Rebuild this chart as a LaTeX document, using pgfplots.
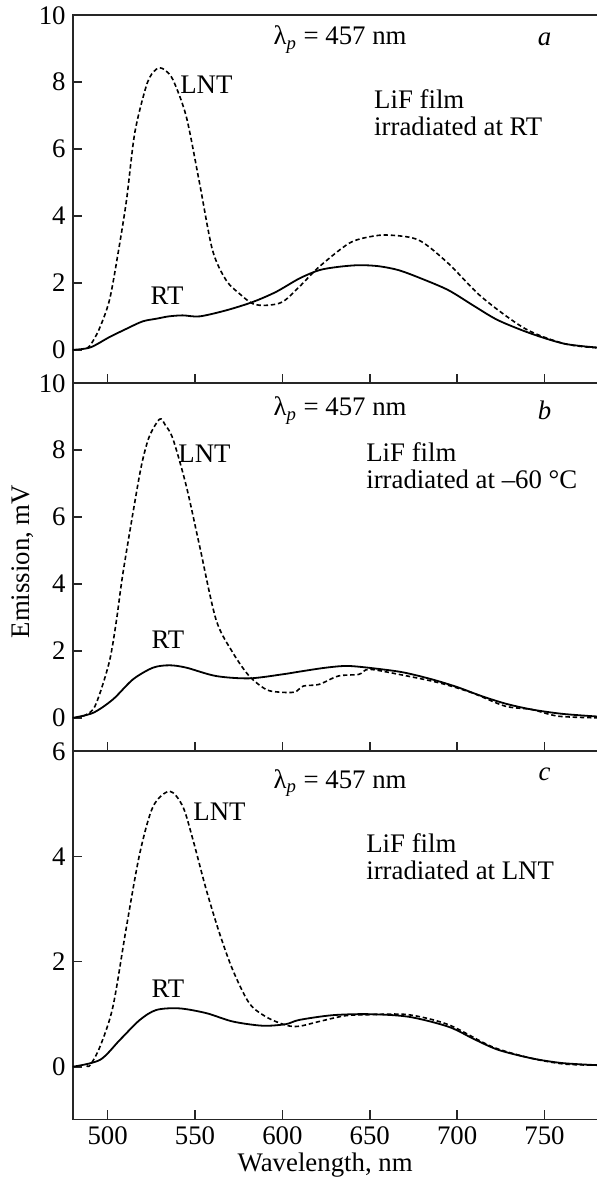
\documentclass[border=0pt]{standalone}
\usepackage{fontspec}
\setmainfont{Liberation Serif}
\usepackage{pgfplots}
\pgfplotsset{compat=1.18}
\newcommand{\fs}{\fontsize{13.4}{13.3}\selectfont}
\pgfplotsset{
  panel/.style={
    scale only axis, width=263.0pt, height=184pt,
    xmin=480, xmax=781, xtick={500,550,...,750},
    tick pos=left, tick align=inside, major tick length=4.5pt,
    axis line style={line width=0.8pt, black!85},
    every tick/.style={line width=0.8pt, black!85},
    /pgf/number format/assume math mode=true,
    ticklabel style={font=\fs},
    clip=false,
  },
  rt/.style={black, line width=0.9pt, smooth, tension=0.5},
  lnt/.style={black, line width=0.8pt, dash pattern=on 2.2pt off 1.4pt, smooth, tension=0.5},
}
\begin{document}
\begin{tikzpicture}
\useasboundingbox (-36.35pt,-33.35pt) rectangle (262.14pt,559.65pt);
% ---------------- panel a
\begin{axis}[panel, at={(0,368pt)}, anchor=south west,
  ymin=-1, ymax=10, ytick={0,2,...,10}, xticklabels={}]
\addplot[lnt] coordinates {
(488,0.05) (490,0.13) (495,0.6) (501,1.48) (506,2.9) (510.8,4.48) (515.5,6.48)
(522,7.87) (526,8.3) (529.8,8.43) (533,8.35) (537.4,8.07) (545,6.97) (552.6,4.98)
(560,2.98) (567.8,2.08) (575.4,1.68) (583,1.38) (590.6,1.33) (600,1.43) (609.6,1.88)
(621,2.48) (638,3.18) (650,3.38) (661,3.43) (678,3.28) (695,2.58) (714,1.58)
(739,0.63) (761.6,0.18) (780,0.06)};
\addplot[rt] coordinates {
(480,0) (490,0.07) (501,0.38) (510.8,0.63) (520,0.85) (527.9,0.93) (535,1.0)
(543,1.03) (552.6,1.0) (567.8,1.18) (583,1.43) (596.3,1.73) (609.6,2.13) (621,2.38)
(632,2.48) (643.8,2.53) (655,2.5) (666.6,2.38) (680,2.12) (695.1,1.78) (710,1.3)
(723.6,0.88) (742.6,0.48) (761.6,0.18) (780,0.07)};
\node[font=\fs] at (axis cs:633,9.27) {λ\textsubscript{\itshape p} = 457 nm};
\node[font=\fs\itshape] at (axis cs:750,9.27) {a};
\node[font=\fs, align=left, anchor=west] at (axis cs:648.5,7.08) {LiF film\\irradiated at RT};
\node[font=\fs] at (axis cs:556.5,7.92) {LNT};
\node[font=\fs] at (axis cs:534,1.63) {RT};
\end{axis}
% ---------------- panel b
\begin{axis}[panel, at={(0,184pt)}, anchor=south west,
  ymin=-1, ymax=10, ytick={0,2,...,10}, xticklabels={}]
\addplot[lnt] coordinates {
(486,0.05) (491.7,0.25) (496,0.8) (501.3,1.75) (505,2.9) (508.8,4.34) (516.5,6.74)
(520,7.7) (524,8.43) (529.8,8.93) (533,8.75) (537.4,8.33) (545,6.93) (552.6,5.14)
(562,2.94) (571.6,1.95) (581,1.25) (590.6,0.85) (598,0.77) (607,0.77) (612,0.95)
(621,1.0) (632,1.25) (643.8,1.3) (649.5,1.45) (666.6,1.3) (689.4,1.05) (708.4,0.75)
(727.4,0.35) (742.6,0.25) (757.8,0.05) (780,0.0)};
\addplot[rt] coordinates {
(480,0) (491.7,0.15) (503,0.55) (514.5,1.15) (526,1.5) (535.5,1.57) (545,1.5)
(562,1.25) (581,1.18) (600,1.3) (609.6,1.38) (625,1.5) (638,1.55) (657,1.45)
(670,1.35) (685.6,1.15) (700,0.92) (714,0.65) (728,0.42) (742.6,0.25) (760,0.12) (780,0.04)};
\node[font=\fs] at (axis cs:633,9.18) {λ\textsubscript{\itshape p} = 457 nm};
\node[font=\fs\itshape] at (axis cs:750,9.18) {b};
\node[font=\fs, align=left, anchor=west] at (axis cs:644,7.53) {LiF film\\irradiated at –60 °C};
\node[font=\fs] at (axis cs:555.4,7.88) {LNT};
\node[font=\fs] at (axis cs:534.5,2.34) {RT};
\node[font=\fs, xshift=-25pt, yshift=2.85pt, rotate=90] at (rel axis cs:0,0.5) {Emission, mV};
\end{axis}
% ---------------- panel c
\begin{axis}[panel, at={(0,0)}, anchor=south west,
  ymin=-1, ymax=6, ytick={0,2,4,6}]
\addplot[lnt] coordinates {
(488,0.02) (490,0.03) (495.6,0.38) (503,1.14) (510.8,2.67) (518.4,4.06) (526,4.95)
(535.5,5.24) (543,4.95) (548.8,4.32) (556.4,3.37) (564,2.54) (571.6,1.84) (581,1.21)
(590.6,0.95) (602,0.79) (609.6,0.77) (621,0.86) (636,0.97) (650,0.99) (672,0.99)
(695,0.8) (720,0.38) (742.6,0.16) (761.6,0.05) (780,0.03)};
\addplot[rt] coordinates {
(480,0) (495.6,0.13) (507,0.51) (518.4,0.89) (527.9,1.08) (541,1.11) (556.4,1.02)
(571.6,0.86) (588.7,0.78) (602,0.81) (609.6,0.89) (628.6,0.98) (649.5,1.0) (672.3,0.95)
(695.1,0.76) (710,0.52) (723.6,0.32) (742.6,0.16) (760,0.07) (780,0.03)};
\node[font=\fs] at (axis cs:633,5.4) {λ\textsubscript{\itshape p} = 457 nm};
\node[font=\fs\itshape] at (axis cs:750,5.56) {c};
\node[font=\fs, align=left, anchor=west] at (axis cs:644,4.0) {LiF film\\irradiated at LNT};
\node[font=\fs] at (axis cs:564,4.86) {LNT};
\node[font=\fs] at (axis cs:534.5,1.49) {RT};
\node[font=\fs] at (rel axis cs:0.48,0) [yshift=-23pt] {Wavelength, nm};
\end{axis}
\end{tikzpicture}
\end{document}
